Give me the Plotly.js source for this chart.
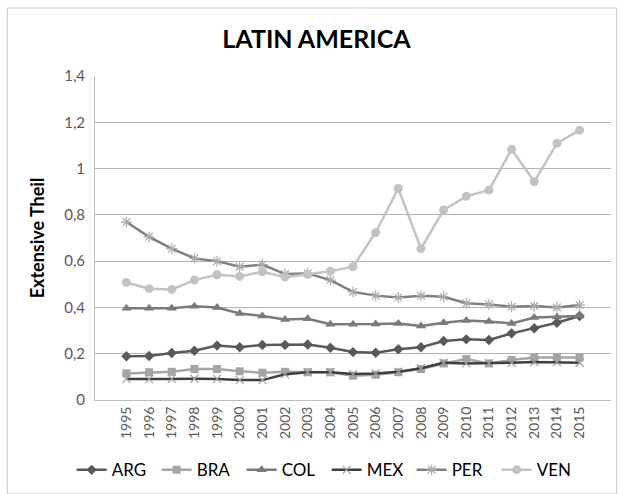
<!DOCTYPE html>
<html><head><meta charset="utf-8">
<script src="https://cdn.plot.ly/plotly-3.0.1.min.js"></script>
<style>html,body{margin:0;padding:0;background:#fff}#chart{width:623px;height:494px}</style>
</head><body><div id="chart"></div>
<script>
const years = ['1995','1996','1997','1998','1999','2000','2001','2002','2003','2004','2005','2006','2007','2008','2009','2010','2011','2012','2013','2014','2015'];
const ARG = [0.189,0.190,0.203,0.213,0.235,0.228,0.238,0.238,0.240,0.226,0.207,0.204,0.219,0.228,0.255,0.262,0.259,0.288,0.310,0.334,0.363];
const BRA = [0.115,0.120,0.122,0.134,0.134,0.124,0.118,0.122,0.120,0.120,0.105,0.109,0.120,0.134,0.158,0.177,0.158,0.173,0.184,0.184,0.184];
const COL = [0.396,0.396,0.396,0.405,0.400,0.374,0.363,0.348,0.351,0.327,0.327,0.328,0.331,0.320,0.334,0.343,0.339,0.331,0.356,0.359,0.363];
const MEX = [0.091,0.090,0.091,0.092,0.091,0.086,0.086,0.111,0.120,0.120,0.112,0.115,0.122,0.137,0.161,0.158,0.158,0.161,0.164,0.164,0.161];
const PER = [0.769,0.705,0.654,0.612,0.600,0.576,0.585,0.544,0.547,0.518,0.467,0.451,0.443,0.451,0.446,0.418,0.413,0.403,0.406,0.400,0.410];
const VEN = [0.508,0.481,0.478,0.518,0.541,0.534,0.554,0.531,0.543,0.556,0.576,0.724,0.914,0.654,0.821,0.880,0.907,1.083,0.943,1.109,1.166];
const yTicks = [0,0.2,0.4,0.6,0.8,1,1.2,1.4];
const yTickText = ['0','0,2','0,4','0,6','0,8','1','1,2','1,4'];

function tr(name, y, lineColor, symbol, mColor, mSize, open) {
  const marker = {symbol: symbol, size: mSize, color: mColor};
  if (open) marker.line = {width: 1.2, color: mColor};
  return {x: years, y: y, name: name, type: 'scatter', mode: 'lines+markers',
    line: {color: lineColor, width: 2.5}, marker: marker};
}
const data = [
  tr('ARG', ARG, '#595959', 'diamond', '#595959', 8),
  tr('BRA', BRA, '#a5a5a5', 'square', '#a5a5a5', 8),
  tr('COL', COL, '#7a7a7a', 'triangle-up', '#7a7a7a', 9),
  tr('MEX', MEX, '#3f3f3f', 'x-thin-open', '#a0a0a0', 8, true),
  tr('PER', PER, '#7f7f7f', 'asterisk-open', '#aaaaaa', 9, true),
  tr('VEN', VEN, '#c3c3c3', 'circle', '#c3c3c3', 9)
];
const layout = {
  width: 623, height: 494,
  margin: {l: 95, r: 12, t: 76, b: 94},
  paper_bgcolor: '#fff', plot_bgcolor: '#fff',
  font: {family: 'Lato, "Open Sans", sans-serif', color: '#595959'},
  title: {text: '<b>LATIN AMERICA</b>', font: {size: 25, color: '#000', family: 'Lato, sans-serif'}, x: 0.508, xanchor: 'center', xref: 'container', yref: 'container', y: 0.92, yanchor: 'middle'},
  xaxis: {type: 'category', tickangle: -90, tickfont: {size: 14, color: '#595959'}, automargin: false,
    showgrid: false, showline: true, linecolor: '#bfbfbf', linewidth: 1, ticks: '', zeroline: false, fixedrange: true},
  yaxis: {range: [0, 1.4], tickvals: yTicks, ticktext: yTickText, tickfont: {size: 15, color: '#595959'}, automargin: false,
    ticklabelstandoff: 6,
    showgrid: true, gridcolor: '#b3b3b3', gridwidth: 1, showline: true, linecolor: '#bfbfbf', ticks: '', zeroline: false,
    title: {text: '<b>Extensive Theil</b>', font: {size: 18, color: '#000'}, standoff: 14}},
  legend: {orientation: 'h', xref: 'container', yref: 'container', x: 0.115, xanchor: 'left', y: 0.048, yanchor: 'middle',
    font: {size: 17, color: '#000'}, itemwidth: 30, entrywidth: 40, entrywidthmode: 'pixels', tracegroupgap: 0},
  showlegend: true,
  shapes: [{type: 'rect', xref: 'paper', yref: 'paper', x0: -0.17, x1: 1.011, y0: -0.29, y1: 1.21, line: {color: '#c8c8c8', width: 1}}]
};
Plotly.newPlot('chart', data, layout, {displayModeBar: false, staticPlot: true});
</script></body></html>
